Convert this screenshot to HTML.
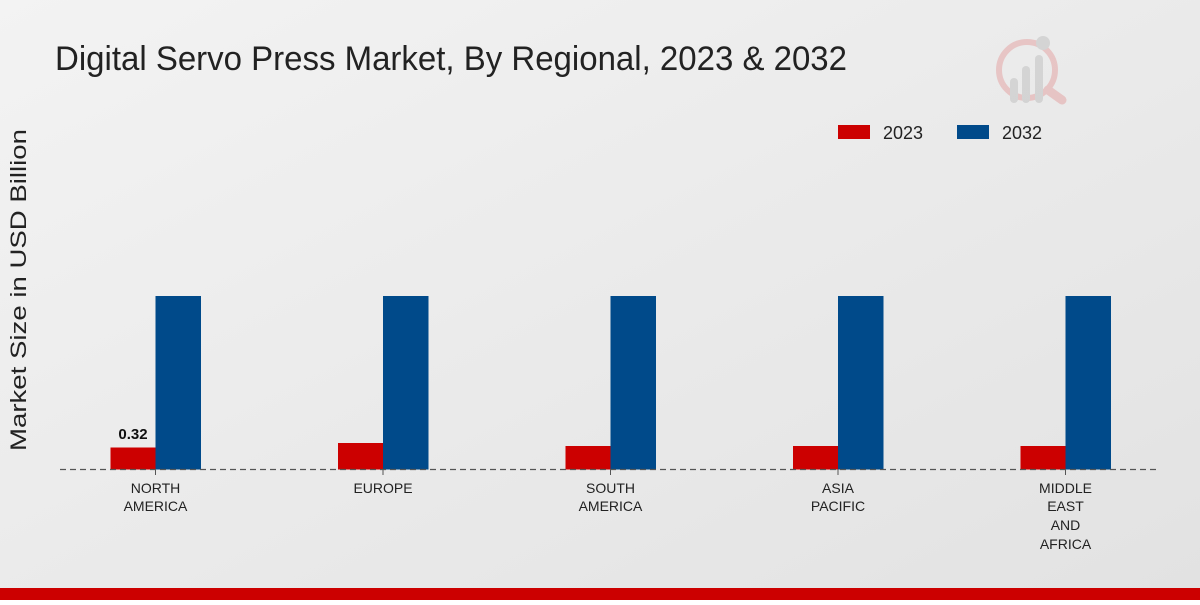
<!DOCTYPE html>
<html><head><meta charset="utf-8"><style>html,body{margin:0;padding:0;}body{width:1200px;height:600px;overflow:hidden;}</style></head>
<body>
<svg width="1200" height="600" xmlns="http://www.w3.org/2000/svg" font-family="'Liberation Sans','DejaVu Sans',sans-serif">
<defs><linearGradient id="bg" x1="0" y1="0" x2="1" y2="1"><stop offset="0" stop-color="#f3f3f3"/><stop offset="1" stop-color="#e2e2e2"/></linearGradient></defs>
<rect width="1200" height="600" fill="url(#bg)"/>
<rect y="588" width="1200" height="12" fill="#cc0000"/>
<text x="55" y="70" font-size="34" fill="#222" textLength="792" lengthAdjust="spacingAndGlyphs">Digital Servo Press Market, By Regional, 2023 &amp; 2032</text>
<g opacity="0.35">
<circle cx="1027" cy="70" r="28" fill="none" stroke="#e08080" stroke-width="6"/>
<line x1="1048" y1="90" x2="1062" y2="100" stroke="#e08080" stroke-width="9" stroke-linecap="round"/>
<rect x="1010" y="78" width="8" height="25" rx="4" fill="#aaa"/><rect x="1022" y="66" width="8" height="37" rx="4" fill="#aaa"/><rect x="1035" y="55" width="8" height="48" rx="4" fill="#aaa"/>
<circle cx="1043" cy="43" r="7" fill="#aaa"/>
</g>
<rect x="838" y="125" width="32" height="14" fill="#cc0000"/>
<text x="883" y="139" font-size="18" fill="#222">2023</text>
<rect x="957" y="125" width="32" height="14" fill="#004a8a"/>
<text x="1002" y="139" font-size="18" fill="#222">2032</text>
<text transform="translate(26,290) rotate(-90)" text-anchor="middle" font-size="22" fill="#222" textLength="322" lengthAdjust="spacingAndGlyphs">Market Size in USD Billion</text>
<g fill="#cc0000">
<rect x="110.5" y="447.5" width="45" height="22"/>
<rect x="338" y="443" width="45" height="26.5"/>
<rect x="565.5" y="446" width="45" height="23.5"/>
<rect x="793" y="446" width="45" height="23.5"/>
<rect x="1020.5" y="446" width="45" height="23.5"/>
</g>
<g fill="#004a8a">
<rect x="155.5" y="296" width="45.5" height="173.5"/>
<rect x="383" y="296" width="45.5" height="173.5"/>
<rect x="610.5" y="296" width="45.5" height="173.5"/>
<rect x="838" y="296" width="45.5" height="173.5"/>
<rect x="1065.5" y="296" width="45.5" height="173.5"/>
</g>
<line x1="60" y1="469.5" x2="1160" y2="469.5" stroke="#555" stroke-width="1.2" stroke-dasharray="6,4"/>
<g stroke="#555"><line x1="155.5" y1="469" x2="155.5" y2="475"/><line x1="383" y1="469" x2="383" y2="475"/><line x1="610.5" y1="469" x2="610.5" y2="475"/><line x1="838" y1="469" x2="838" y2="475"/><line x1="1065.5" y1="469" x2="1065.5" y2="475"/></g>
<text x="133" y="439" text-anchor="middle" font-size="15" font-weight="bold" fill="#111">0.32</text>
<g font-size="14" fill="#222" text-anchor="middle">
<text x="155.5" y="493">NORTH</text><text x="155.5" y="511">AMERICA</text>
<text x="383" y="493">EUROPE</text>
<text x="610.5" y="493">SOUTH</text><text x="610.5" y="511">AMERICA</text>
<text x="838" y="493">ASIA</text><text x="838" y="511">PACIFIC</text>
<text x="1065.5" y="493">MIDDLE</text><text x="1065.5" y="511">EAST</text><text x="1065.5" y="530">AND</text><text x="1065.5" y="549">AFRICA</text>
</g>
</svg>
</body></html>
